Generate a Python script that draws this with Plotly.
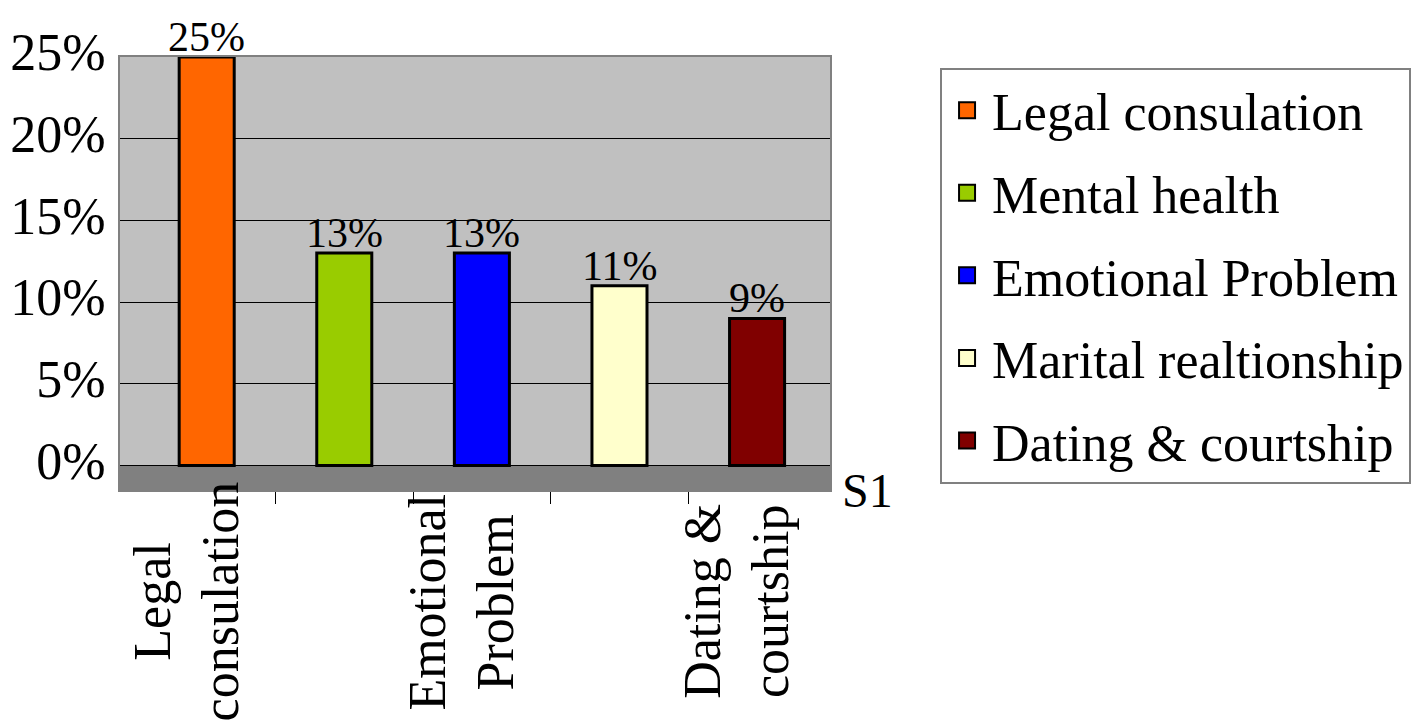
import plotly.graph_objects as go

categories = ["Legal consulation", "Mental health", "Emotional Problem",
              "Marital realtionship", "Dating & courtship"]
values = [0.25, 0.13, 0.13, 0.11, 0.09]
colors = ["#ff6600", "#99cc00", "#0000ff", "#ffffcc", "#800000"]
axis_label_idx = [0, 2, 4]
axis_label_text = ["Legal<br>consulation", "Emotional<br>Problem", "Dating &<br>courtship"]
y_ticks = [0, 0.05, 0.10, 0.15, 0.20, 0.25]

FONT = "Liberation Serif"
FS = 52

fig = go.Figure()
for i, (c, v, col) in enumerate(zip(categories, values, colors)):
    fig.add_trace(go.Bar(
        x=[i], y=[v], name=c, showlegend=False,
        marker=dict(color=col, line=dict(color="black", width=3)),
        width=0.4,
    ))
    # value label above the bar
    fig.add_annotation(x=i, y=v, xref="x", yref="y", text=f"{v:.0%}",
                       showarrow=False, yanchor="bottom", xanchor="center",
                       yshift=-5, font=dict(size=42, color="black", family=FONT))
# legend entries (square swatches)
for c, col in zip(categories, colors):
    fig.add_trace(go.Scatter(
        x=[None], y=[None], mode="markers", name=c, legendgroup=c,
        marker=dict(symbol="square", size=30, color=col,
                    line=dict(color="black", width=2)),
    ))

# floor band
fig.add_shape(type="rect", xref="x domain", yref="y", x0=0, x1=1, y0=-0.015, y1=0,
              fillcolor="#808080", line=dict(width=0), layer="below")

for idx, txt in zip(axis_label_idx, axis_label_text):
    fig.add_annotation(x=idx, y=-0.258, xref="x", yref="paper", text=txt,
                       textangle=-90, showarrow=False, align="center", xshift=-20,
                       font=dict(size=FS, color="black", family=FONT),
                       xanchor="center", yanchor="middle")

fig.add_annotation(x=1.053, y=0.0, xref="paper", yref="paper", text="S1",
                   showarrow=False, font=dict(size=48, color="black", family=FONT),
                   xanchor="center", yanchor="middle")

fig.update_layout(
    width=1420, height=721,
    margin=dict(l=112, r=598, t=49, b=239, autoexpand=False),
    paper_bgcolor="white", plot_bgcolor="#c0c0c0",
    font=dict(family=FONT, color="black"),
    barmode="overlay",
    showlegend=True,
    legend=dict(x=1.155, y=0.975, xanchor="left", yanchor="top",
                bgcolor="white", bordercolor="#808080", borderwidth=2,
                font=dict(size=FS, family=FONT, color="black"),
                tracegroupgap=12, itemwidth=40, itemsizing="trace"),
    xaxis=dict(range=[-0.63, 4.53], tickvals=[0.5, 1.5, 2.5, 3.5], showticklabels=False,
               ticks="outside", ticklen=12, tickcolor="black", automargin=False,
               showgrid=False, zeroline=False, showline=True, linecolor="#808080",
               linewidth=2, mirror=True),
    yaxis=dict(range=[-0.015, 0.25], tickvals=y_ticks, tickformat=".0%",
               tickfont=dict(size=FS, family=FONT, color="black"), automargin=False,
               showgrid=True, gridcolor="black", gridwidth=1, zeroline=False,
               showline=True, linecolor="#808080", linewidth=2, mirror=True,
               ticks="", ticklabelstandoff=2, ticklabelshift=-5),
)

fig.write_html("out.html")
